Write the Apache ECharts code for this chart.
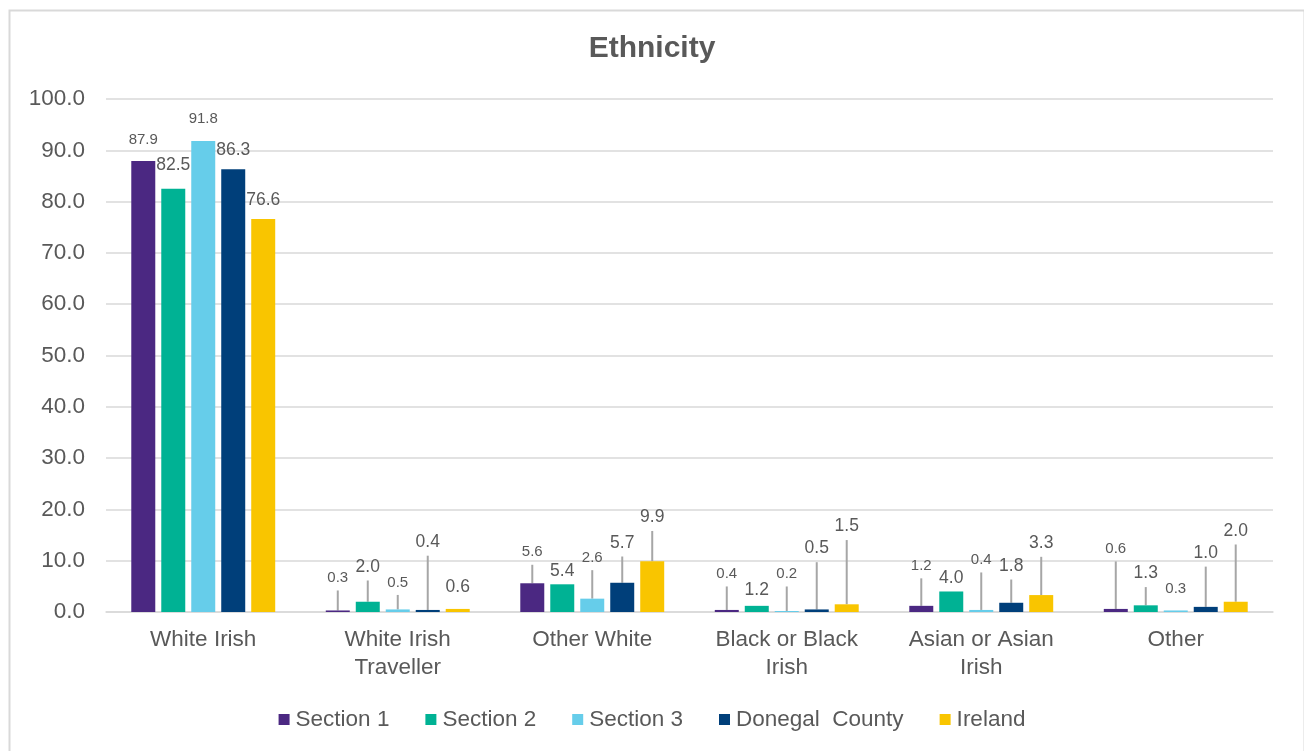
<!DOCTYPE html>
<html>
<head>
<meta charset="utf-8">
<script src="https://cdn.jsdelivr.net/npm/echarts@6/dist/echarts.min.js"></script>
<style>
  html, body { margin: 0; padding: 0; background: #ffffff; }
  #chart { width: 1304px; height: 751px; }
</style>
</head>
<body>
<div id="chart"></div>
<script>
// Ethnicity shares (%) by area
const categories = ['White Irish', 'White Irish\nTraveller', 'Other White', 'Black or Black\nIrish', 'Asian or Asian\nIrish', 'Other'];
const seriesNames = ['Section 1', 'Section 2', 'Section 3', 'Donegal  County', 'Ireland'];
const section1 = [87.9, 0.3, 5.6, 0.4, 1.2, 0.6];
const section2 = [82.5, 2.0, 5.4, 1.2, 4.0, 1.3];
const section3 = [91.8, 0.5, 2.6, 0.2, 0.4, 0.3];
const donegal  = [86.3, 0.4, 5.7, 0.5, 1.8, 1.0];
const ireland  = [76.6, 0.6, 9.9, 1.5, 3.3, 2.0];
const yMin = 0, yMax = 100, yStep = 10;

// Styling: colours, label font sizes and how far each value label sits above its bar (px)
const colors = ['#4B2882', '#00B294', '#66CDEA', '#003F7A', '#F9C500'];
const labelFont = [15, 17.5, 15, 17.5, 17.5];
const labelLift = [
  [21, 32.5, 31, 36, 40, 60],
  [24, 35, 13, 16, 13.5, 32],
  [22, 27, 41, 37, 50, 21.5],
  [19, 68, 40, 61, 37, 54],
  [19, 22, 44, 78, 52, 71]
];
const leaderMin = 26;   // labels lifted further than this get a leader line
const labelPadBottom = 4;

const values = [section1, section2, section3, donegal, ireland];
const textColor = '#595959';
const gridColor = '#D9D9D9';
const fontFamily = '"Liberation Sans", Arial, sans-serif';

const series = values.map((vals, s) => ({
  name: seriesNames[s],
  type: 'bar',
  barGap: '25%',
  barCategoryGap: '26%',
  itemStyle: { color: colors[s] },
  data: vals.map((v, i) => ({
    value: v,
    labelLine: { show: labelLift[s][i] >= leaderMin }
  })),
  label: {
    show: true,
    position: 'top',
    distance: 0,
    fontFamily: fontFamily,
    fontSize: labelFont[s],
    lineHeight: labelFont[s] + 2,
    padding: [0, 0, labelPadBottom, 0],
    color: textColor,
    formatter: p => Number(p.value).toFixed(1)
  },
  labelLine: {
    show: true,
    length2: 0,
    lineStyle: { color: '#A6A6A6', width: 2 }
  },
  labelLayout: p => {
    const lh = labelFont[p.seriesIndex] + 2;
    return { dy: -(labelLift[p.seriesIndex][p.dataIndex] - lh / 2 - labelPadBottom) };
  }
}));

const chart = echarts.init(document.getElementById('chart'), null, { renderer: 'canvas' });
chart.setOption({
  backgroundColor: '#ffffff',
  animation: false,
  textStyle: { fontFamily: fontFamily },
  title: {
    text: 'Ethnicity',
    left: 'center',
    top: 29,
    textStyle: { fontFamily: fontFamily, fontSize: 30, fontWeight: 'bold', color: textColor }
  },
  graphic: [{
    type: 'rect',
    left: 7, top: 8,
    shape: { width: 1295, height: 760 },
    style: { fill: 'none', stroke: gridColor, lineWidth: 2 },
    silent: true
  }],
  legend: {
    bottom: 15,
    left: 'center',
    itemWidth: 11,
    itemHeight: 11,
    itemGap: 36,
    icon: 'rect',
    textStyle: { fontFamily: fontFamily, fontSize: 22.5, color: textColor, padding: [0, 0, 0, 1] },
    data: seriesNames
  },
  grid: { left: 106, right: 31, top: 99, bottom: 139, containLabel: false },
  xAxis: {
    type: 'category',
    data: categories,
    axisLine: { show: true, lineStyle: { color: gridColor, width: 1.5 } },
    axisTick: { show: false },
    axisLabel: {
      color: textColor,
      fontFamily: fontFamily,
      fontSize: 22.5,
      lineHeight: 28,
      margin: 14,
      interval: 0
    }
  },
  yAxis: {
    type: 'value',
    min: yMin,
    max: yMax,
    interval: yStep,
    axisLine: { show: false },
    axisTick: { show: false },
    splitLine: { lineStyle: { color: gridColor, width: 1.5 } },
    axisLabel: {
      color: textColor,
      fontFamily: fontFamily,
      fontSize: 22.5,
      margin: 21,
      formatter: v => v.toFixed(1)
    }
  },
  color: colors,
  series: series
});
</script>
</body>
</html>
